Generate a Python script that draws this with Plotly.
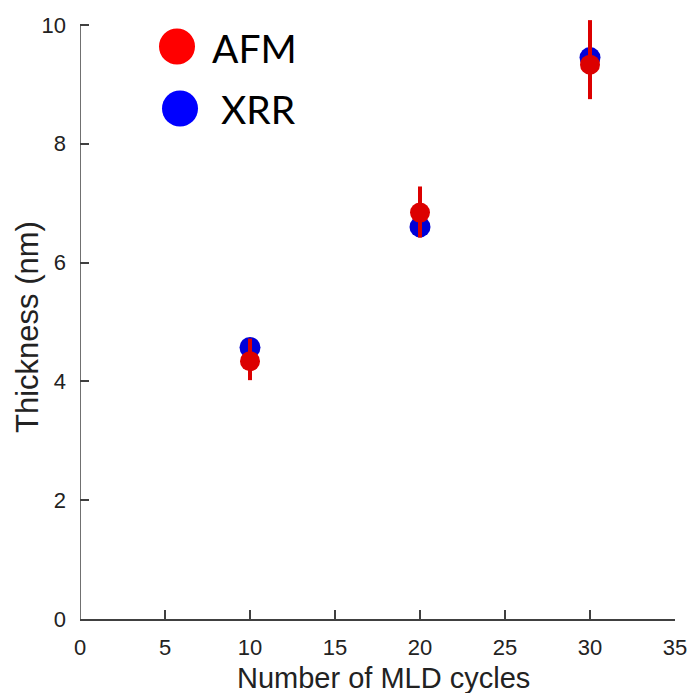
import plotly.graph_objects as go

cycles = [10, 20, 30]
afm_thickness = [4.34, 6.84, 9.33]
afm_err_plus = [0.38, 0.44, 0.75]
afm_err_minus = [0.32, 0.42, 0.58]
xrr_thickness = [4.57, 6.60, 9.45]

x_ticks = [0, 5, 10, 15, 20, 25, 30, 35]
y_ticks = [0, 2, 4, 6, 8, 10]

W, H = 688, 693
ML, MR, MT, MB = 80, 13, 13, 74
PW, PH = W - ML - MR, H - MT - MB


def px(xp):
    return (xp - ML) / PW


def py(yp):
    return (H - MB - yp) / PH


fig = go.Figure()
fig.add_trace(go.Scatter(
    x=cycles, y=xrr_thickness, mode="markers", name="XRR",
    marker=dict(size=21, color="rgb(0,0,215)"), cliponaxis=False))
fig.add_trace(go.Scatter(
    x=cycles, y=afm_thickness, mode="markers", name="AFM",
    marker=dict(size=20, color="rgb(220,0,0)"),
    error_y=dict(type="data", symmetric=False, array=afm_err_plus,
                 arrayminus=afm_err_minus, color="rgb(220,0,0)",
                 thickness=4, width=0),
    cliponaxis=False))

# legend drawn as large circles + text
fig.add_shape(type="circle", xref="paper", yref="paper",
              x0=px(159), x1=px(195), y0=py(64.5), y1=py(28.5),
              fillcolor="#ff0000", line=dict(width=0))
fig.add_shape(type="circle", xref="paper", yref="paper",
              x0=px(162), x1=px(198), y0=py(126.5), y1=py(90.5),
              fillcolor="#0000ff", line=dict(width=0))
fig.add_annotation(xref="paper", yref="paper", x=px(210), y=py(48),
                   text="AFM", showarrow=False, xanchor="left", yanchor="middle",
                   font=dict(family="Lato", size=39, color="black"))
fig.add_annotation(xref="paper", yref="paper", x=px(219), y=py(109),
                   text="XRR", showarrow=False, xanchor="left", yanchor="middle",
                   font=dict(family="Lato", size=39, color="black"))

# axis titles
fig.add_annotation(xref="paper", yref="paper", x=px(383), y=py(678),
                   text="Number of MLD cycles", showarrow=False,
                   xanchor="center", yanchor="middle",
                   font=dict(family="Liberation Sans", size=29, color="#222"))
fig.add_annotation(xref="paper", yref="paper", x=px(28), y=py(327),
                   text="Thickness (nm)", showarrow=False, textangle=-90,
                   xanchor="center", yanchor="middle",
                   font=dict(family="Liberation Sans", size=31, color="#222"))

# y axis line from 0 to 10
fig.add_shape(type="line", xref="x", yref="y", x0=0, x1=0, y0=0, y1=10,
              line=dict(color="#404040", width=1.5))

tickfont = dict(family="Liberation Sans", size=22, color="#222")
axis_common = dict(linecolor="#404040", linewidth=1.5,
                   ticks="inside", ticklen=9, tickcolor="#404040", tickwidth=1.5,
                   showgrid=False, zeroline=False, automargin=False,
                   tickfont=tickfont)
fig.update_xaxes(range=[0, 35], tickvals=x_ticks, showline=True,
                 ticklabelstandoff=8, **axis_common)
fig.update_yaxes(range=[0, 10.2], tickvals=y_ticks, showline=False,
                 ticklabelstandoff=13, **axis_common)

fig.update_layout(width=W, height=H, showlegend=False,
                  plot_bgcolor="white", paper_bgcolor="white",
                  margin=dict(l=ML, r=MR, t=MT, b=MB))
fig.write_html("out.html")
